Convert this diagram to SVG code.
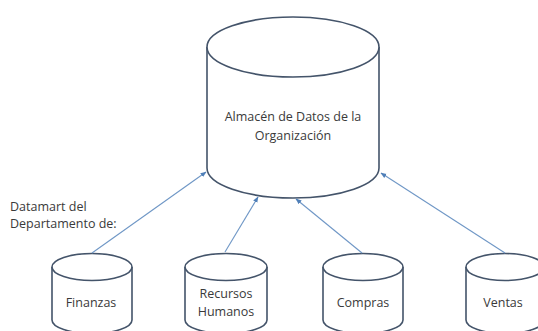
<svg xmlns="http://www.w3.org/2000/svg" width="538" height="331" viewBox="0 0 538 331">
  <style>
    .cyl { fill: #ffffff; stroke: #44546a; stroke-width: 1.6; }
    .lbl { font-family: "Open Sans", "Liberation Sans", sans-serif; font-size: 12.5px; fill: #3a3a3a; text-anchor: middle; }
    .note { font-family: "Open Sans", "Liberation Sans", sans-serif; font-size: 12.5px; fill: #3a3a3a; }
    .arrow { stroke: #6f97c6; stroke-width: 1.1; fill: none; marker-end: url(#head); }
  </style>
  <defs>
    <marker id="head" viewBox="0 0 10 10" refX="9" refY="5" markerWidth="6" markerHeight="6" orient="auto" markerUnits="userSpaceOnUse">
      <path d="M0,1 L10,5 L0,9 z" fill="#4f7fb8"/>
    </marker>
  </defs>
  <rect width="538" height="331" fill="#ffffff"/>

  <!-- central warehouse -->
  <g id="almacen">
    <path class="cyl" d="M207,47 L207,168 A86,30 0 0 0 379,168 L379,47"/>
    <ellipse class="cyl" cx="293" cy="47" rx="86" ry="30"/>
    <text class="lbl" x="293" y="121">Almacén de Datos de la</text>
    <text class="lbl" x="293" y="140">Organización</text>
  </g>

  <text class="note" x="10" y="211">Datamart del</text>
  <text class="note" x="10" y="228">Departamento de:</text>

  <!-- departmental datamarts -->
  <g id="finanzas">
    <path class="cyl" d="M52,267 L52,320 A40,13.5 0 0 0 132,320 L132,267"/>
    <ellipse class="cyl" cx="92" cy="267" rx="40" ry="13.5"/>
    <text class="lbl" x="91" y="307">Finanzas</text>
  </g>
  <g id="recursos">
    <path class="cyl" d="M185,267 L185,320 A41,13.5 0 0 0 267,320 L267,267"/>
    <ellipse class="cyl" cx="226" cy="267" rx="41" ry="13.5"/>
    <text class="lbl" x="226" y="298">Recursos</text>
    <text class="lbl" x="226" y="316">Humanos</text>
  </g>
  <g id="compras">
    <path class="cyl" d="M323,267 L323,320 A40,13.5 0 0 0 403,320 L403,267"/>
    <ellipse class="cyl" cx="363" cy="267" rx="40" ry="13.5"/>
    <text class="lbl" x="363" y="307">Compras</text>
  </g>
  <g id="ventas">
    <path class="cyl" d="M466,267 L466,320 A39,13.5 0 0 0 544,320 L544,267"/>
    <ellipse class="cyl" cx="505" cy="267" rx="39" ry="13.5"/>
    <text class="lbl" x="503" y="307">Ventas</text>
  </g>

  <!-- connectors -->
  <g id="connectors">
    <line class="arrow" x1="92" y1="253" x2="206" y2="172"/>
    <line class="arrow" x1="225" y1="252" x2="258" y2="197"/>
    <line class="arrow" x1="362" y1="253" x2="296" y2="199"/>
    <line class="arrow" x1="505" y1="253" x2="381" y2="173"/>
  </g>
</svg>
